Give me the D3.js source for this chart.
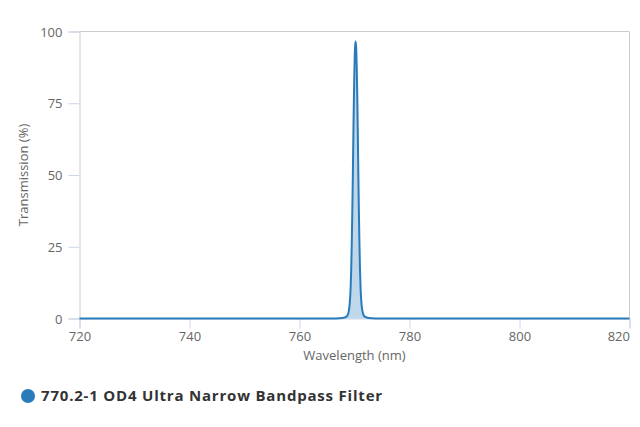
<!DOCTYPE html>
<html><head><meta charset="utf-8">
<script src="https://cdn.jsdelivr.net/npm/d3@7"></script>
<style>
html,body{margin:0;padding:0;background:#fff;}
text{font-family:"Open Sans",sans-serif;}
</style></head>
<body><svg id="c" width="640" height="427"></svg>
<script>
const seriesName = "770.2-1 OD4 Ultra Narrow Bandpass Filter";
const wavelengths = [720, 760, 766, 767.2, 768.2, 768.7, 769.0, 769.2, 769.3, 769.4, 769.5, 769.6, 769.7, 769.8, 769.9, 770.0, 770.1, 770.2, 770.3, 770.4, 770.5, 770.6, 770.7, 770.8, 770.9, 771.0, 771.1, 771.2, 771.4, 771.7, 772.2, 773.2, 774.4, 780, 820];
const transmission = [0, 0, 0.03, 0.1, 0.35, 1.0, 3.0, 7.0, 11, 17, 26, 37, 50, 65, 78, 88, 94.5, 96.5, 94.5, 88, 78, 65, 50, 37, 26, 17, 11, 7.0, 3.0, 1.0, 0.35, 0.1, 0.03, 0, 0];
const xTicks = [720, 740, 760, 780, 800, 820];
const yTicks = [0, 25, 50, 75, 100];
const xTitle = "Wavelength (nm)";
const yTitle = "Transmission (%)";

const data = wavelengths.map((w, i) => ({w, t: transmission[i]}));

const svg = d3.select("#c");
const m = {l: 79.5, r: 629.5, t: 31.5, b: 318.5};
const x = d3.scaleLinear().domain([720, 820]).range([m.l, m.r]);
const y = d3.scaleLinear().domain([0, 100]).range([m.b, m.t]);

// plot border lines (top and right)
svg.append("line").attr("x1", m.l).attr("x2", m.r).attr("y1", m.t).attr("y2", m.t).attr("stroke", "#ccc").attr("stroke-width", 1);
svg.append("line").attr("x1", m.r).attr("x2", m.r).attr("y1", m.t).attr("y2", m.b).attr("stroke", "#ccc").attr("stroke-width", 1);

// y axis
const ya = svg.append("g").attr("transform", `translate(${m.l},0)`)
  .call(d3.axisLeft(y).tickValues(yTicks).tickSize(11).tickPadding(5));
ya.select(".domain").attr("stroke", "#ccc");
ya.selectAll(".tick line").attr("stroke", "#ccd6eb");
ya.selectAll(".tick text").attr("fill", "#666").style("font-size", "13px").attr("font-family", "Open Sans").attr("dy", "0.35em").attr("dx", "-1");

// x axis
const xa = svg.append("g").attr("transform", `translate(0,${m.b})`)
  .call(d3.axisBottom(x).tickValues(xTicks).tickSize(10).tickPadding(3));
xa.select(".domain").attr("stroke", "#ccd6eb");
xa.selectAll(".tick line").attr("stroke", "#ccd6eb");
xa.selectAll(".tick text").attr("fill", "#666").style("font-size", "13px").attr("font-family", "Open Sans")
  .attr("text-anchor", d => d === 820 ? "end" : "middle");

// area + line
const area = d3.area().x(d => x(d.w)).y0(y(0)).y1(d => y(d.t)).curve(d3.curveMonotoneX);
const line = d3.line().x(d => x(d.w)).y(d => y(d.t)).curve(d3.curveMonotoneX);
svg.append("path").datum(data).attr("d", area).attr("fill", "#2b7bb9").attr("fill-opacity", 0.3);
svg.append("path").datum(data).attr("d", line).attr("fill", "none").attr("stroke", "#2b7bb9").attr("stroke-width", 2).attr("stroke-linejoin", "round");

// titles
svg.append("text").attr("x", (m.l + m.r) / 2).attr("y", 360).attr("text-anchor", "middle")
  .attr("fill", "#666").style("font-size", "13px").text(xTitle);
svg.append("text").attr("transform", `translate(28,${(m.t + m.b) / 2}) rotate(-90)`).attr("text-anchor", "middle")
  .attr("fill", "#666").style("font-size", "13px").text(yTitle);

// legend
svg.append("circle").attr("cx", 28).attr("cy", 396).attr("r", 7).attr("fill", "#2b7bb9");
svg.append("text").attr("x", 41).attr("y", 401).attr("fill", "#333").style("font-size", "15px").style("font-weight", "bold")
  .style("letter-spacing", "0.8px").text(seriesName);
</script></body></html>
